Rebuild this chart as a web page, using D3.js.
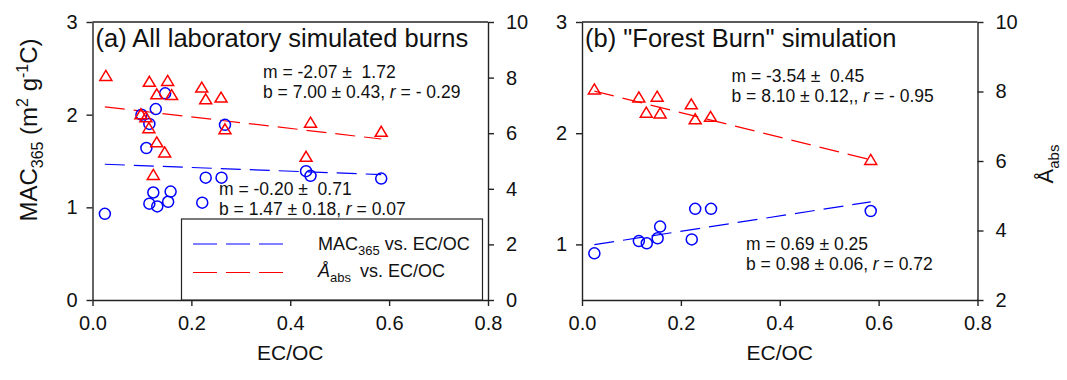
<!DOCTYPE html>
<html>
<head>
<meta charset="utf-8">
<script src="https://cdn.jsdelivr.net/npm/d3@7/dist/d3.min.js"></script>
<style>
  html, body { margin: 0; padding: 0; background: #fff; }
  svg { display: block; font-family: "Liberation Sans", Arial, sans-serif; }
</style>
</head>
<body>
<svg id="chart" width="1067" height="380"></svg>
<script>
// ---------- DATA ----------
const xTickValues = [0, 0.2, 0.4, 0.6, 0.8];
const leftMacTicks = [0, 1, 2, 3];
const leftAabsTicks = [0, 2, 4, 6, 8, 10];
const rightMacTicks = [1, 2, 3];
const rightAabsTicks = [2, 4, 6, 8, 10];

// (a) All laboratory simulated burns
const allMacEcoc = [0.025, 0.115, 0.123, 0.131, 0.153, 0.158, 0.222, 0.229, 0.261, 0.268, 0.432, 0.441, 0.584, 0.109, 0.115, 0.099, 0.128, 0.147];
const allMac     = [0.93, 1.04, 1.16, 1.01, 1.06, 1.17, 1.05, 1.32, 1.32, 1.89, 1.39, 1.34, 1.31, 1.64, 1.90, 2.00, 2.06, 2.23];
const allAabsEcoc = [0.027, 0.115, 0.152, 0.130, 0.160, 0.221, 0.229, 0.260, 0.098, 0.108, 0.114, 0.130, 0.146, 0.123, 0.268, 0.441, 0.432, 0.584];
const allAabs     = [8.06, 7.85, 7.88, 7.40, 7.37, 7.64, 7.22, 7.28, 6.68, 6.57, 6.18, 5.67, 5.31, 4.50, 6.14, 6.38, 5.15, 6.05];

// (b) "Forest Burn" simulation
const forestMacEcoc = [0.025, 0.115, 0.131, 0.153, 0.158, 0.222, 0.229, 0.261, 0.584];
const forestMac     = [0.92, 1.03, 1.01, 1.055, 1.16, 1.045, 1.32, 1.32, 1.30];
const forestAabsEcoc = [0.025, 0.115, 0.152, 0.130, 0.158, 0.221, 0.229, 0.260, 0.584];
const forestAabs     = [8.06, 7.83, 7.85, 7.39, 7.37, 7.63, 7.20, 7.27, 6.03];

// linear fits: [slope, intercept]
const allMacFit = [-0.20, 1.47];
const allAabsFit = [-2.07, 7.00];
const forestMacFit = [0.69, 0.98];
const forestAabsFit = [-3.54, 8.10];
const fitRange = [0.025, 0.584];

// ---------- DRAW ----------
const svg = d3.select("#chart");
const BLUE = "#0000ff", RED = "#ff0000";
const TOP = 22, BOTTOM = 300;

function panel(cfg) {
  const x = d3.scaleLinear().domain([0, 0.8]).range([cfg.x0, cfg.x1]);
  const yL = d3.scaleLinear().domain(cfg.yLDomain).range([BOTTOM, TOP]);
  const yR = d3.scaleLinear().domain(cfg.yRDomain).range([BOTTOM, TOP]);
  const g = svg.append("g");

  // top border
  g.append("line").attr("x1", cfg.x0).attr("x2", cfg.x1).attr("y1", TOP).attr("y2", TOP)
    .attr("stroke", "#222").attr("stroke-width", 1.4);

  const styleAxis = (sel) => {
    sel.selectAll("path.domain").attr("stroke", "#222").attr("stroke-width", 1.4);
    sel.selectAll(".tick line").attr("stroke", "#222").attr("stroke-width", 1.4);
    sel.selectAll(".tick text").attr("fill", "#111").style("font-size", "20px")
      .style("font-family", "'Liberation Sans', Arial, sans-serif");
  };

  g.append("g").attr("transform", `translate(0,${BOTTOM})`)
    .call(d3.axisBottom(x).tickValues(xTickValues).tickFormat(d3.format(".1f"))
      .tickSize(6).tickSizeOuter(0).tickPadding(10))
    .call(styleAxis);

  g.append("g").attr("transform", `translate(${cfg.x0},0)`)
    .call(d3.axisLeft(yL).tickValues(cfg.yLTicks).tickFormat(d3.format("d"))
      .tickSize(6).tickSizeOuter(0).tickPadding(9))
    .call(styleAxis);

  g.append("g").attr("transform", `translate(${cfg.x1},0)`)
    .call(d3.axisRight(yR).tickValues(cfg.yRTicks).tickFormat(d3.format("d"))
      .tickSize(6).tickSizeOuter(0).tickPadding(12))
    .call(styleAxis);

  // fit lines
  const fitLine = (fit, y, color) => {
    g.append("line")
      .attr("x1", x(fitRange[0])).attr("x2", x(fitRange[1]))
      .attr("y1", y(fit[1] + fit[0] * fitRange[0]))
      .attr("y2", y(fit[1] + fit[0] * fitRange[1]))
      .attr("stroke", color).attr("stroke-width", 1.2).attr("stroke-dasharray", "20,9");
  };
  fitLine(cfg.macFit, yL, BLUE);
  fitLine(cfg.aabsFit, yR, RED);

  // markers
  g.selectAll("circle.mac").data(d3.zip(cfg.macX, cfg.mac)).join("circle")
    .attr("cx", d => x(d[0])).attr("cy", d => yL(d[1])).attr("r", 5.5)
    .attr("fill", "none").attr("stroke", BLUE).attr("stroke-width", 1.5);
  g.selectAll("path.aabs").data(d3.zip(cfg.aabsX, cfg.aabs)).join("path")
    .attr("d", "M0,-5.5L6,4.5L-6,4.5Z")
    .attr("transform", d => `translate(${x(d[0])},${yR(d[1])})`)
    .attr("fill", "none").attr("stroke", RED).attr("stroke-width", 1.5);

  // x axis title
  g.append("text").attr("x", (cfg.x0 + cfg.x1) / 2).attr("y", 360)
    .attr("text-anchor", "middle").style("font-size", "21px").attr("fill", "#111").text("EC/OC");

  // panel title
  g.append("text").attr("x", cfg.x0 + 3).attr("y", 47).style("font-size", "25.5px")
    .attr("fill", "#111").text(cfg.title);

  // annotations
  cfg.notes.forEach(n => {
    const t = g.append("text").attr("x", n.x).attr("y", n.y).style("font-size", "17.5px")
      .attr("fill", "#111").attr("xml:space", "preserve");
    n.parts.forEach(p => {
      const ts = t.append("tspan").text(p[0]);
      if (p[1]) ts.style("font-style", "italic");
    });
  });
}

panel({
  x0: 92.5, x1: 488, yLDomain: [0, 3], yRDomain: [0, 10],
  yLTicks: leftMacTicks, yRTicks: leftAabsTicks,
  macX: allMacEcoc, mac: allMac, aabsX: allAabsEcoc, aabs: allAabs,
  macFit: allMacFit, aabsFit: allAabsFit,
  title: "(a) All laboratory simulated burns",
  notes: [
    { x: 263, y: 78, parts: [["m = -2.07 ±  1.72"]] },
    { x: 263, y: 98, parts: [["b = 7.00 ± 0.43, "], ["r", true], [" = - 0.29"]] },
    { x: 219, y: 195, parts: [["m = -0.20 ±  0.71"]] },
    { x: 219, y: 215, parts: [["b = 1.47 ± 0.18, "], ["r", true], [" = 0.07"]] }
  ]
});

panel({
  x0: 582, x1: 977.5, yLDomain: [0.5, 3], yRDomain: [2, 10],
  yLTicks: rightMacTicks, yRTicks: rightAabsTicks,
  macX: forestMacEcoc, mac: forestMac, aabsX: forestAabsEcoc, aabs: forestAabs,
  macFit: forestMacFit, aabsFit: forestAabsFit,
  title: "(b) \"Forest Burn\" simulation",
  notes: [
    { x: 731.5, y: 82, parts: [["m = -3.54 ±  0.45"]] },
    { x: 731.5, y: 102, parts: [["b = 8.10 ± 0.12,, "], ["r", true], [" = - 0.95"]] },
    { x: 746, y: 250, parts: [["m = 0.69 ± 0.25"]] },
    { x: 746, y: 270, parts: [["b = 0.98 ± 0.06, "], ["r", true], [" = 0.72"]] }
  ]
});

// legend (panel a)
const lg = svg.append("g");
lg.append("rect").attr("x", 181.5).attr("y", 219).attr("width", 301).attr("height", 81)
  .attr("fill", "#fff").attr("stroke", "#222").attr("stroke-width", 1.2);
[[BLUE, 244], [RED, 272.5]].forEach(([c, y]) => {
  lg.append("line").attr("x1", 193).attr("x2", 283).attr("y1", y).attr("y2", y)
    .attr("stroke", c).attr("stroke-width", 1.2).attr("stroke-dasharray", "24,9");
});
const lt1 = lg.append("text").attr("x", 318).attr("y", 250).style("font-size", "18px").attr("fill", "#111");
lt1.append("tspan").text("MAC");
lt1.append("tspan").attr("dy", 5).style("font-size", "13px").text("365");
lt1.append("tspan").attr("dy", -5).text(" vs. EC/OC");
const lt2 = lg.append("text").attr("x", 318).attr("y", 277).style("font-size", "18px").attr("fill", "#111");
lt2.append("tspan").style("font-style", "italic").text("Å");
lt2.append("tspan").attr("dy", 5).style("font-size", "13px").text("abs");
lt2.append("tspan").attr("dy", -5).attr("dx", 4).text(" vs. EC/OC");

// left y-axis title
const yt = svg.append("text").attr("transform", "translate(37,130) rotate(-90)")
  .attr("text-anchor", "middle").style("font-size", "24px").attr("fill", "#111");
yt.append("tspan").text("MAC");
yt.append("tspan").attr("dy", 6).style("font-size", "16px").text("365");
yt.append("tspan").attr("dy", -6).text(" (m");
yt.append("tspan").attr("dy", -9).style("font-size", "16px").text("2");
yt.append("tspan").attr("dy", 9).text(" g");
yt.append("tspan").attr("dy", -9).style("font-size", "16px").text("-1");
yt.append("tspan").attr("dy", 9).text("C)");

// right y-axis title
const yr = svg.append("text").attr("transform", "translate(1053,164) rotate(-90)")
  .attr("text-anchor", "middle").style("font-size", "22px").attr("fill", "#111");
yr.append("tspan").text("Å");
yr.append("tspan").attr("dy", 6).style("font-size", "15px").text("abs");
</script>
</body>
</html>
